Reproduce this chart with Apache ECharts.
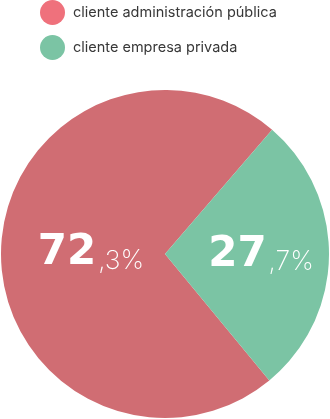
<!DOCTYPE html>
<html>
<head>
<meta charset="utf-8">
<script src="https://cdn.jsdelivr.net/npm/echarts@6/dist/echarts.min.js"></script>
<style>
html,body{margin:0;padding:0;background:#fff;}
#c{width:330px;height:419px;}
</style>
</head>
<body>
<div id="c"></div>
<script>
const categories = ['cliente administración pública', 'cliente empresa privada'];
const values = [72.3, 27.7];
const sliceColors = ['#d06d73', '#7bc4a4'];
const legendColors = ['#ef717c', '#7bc4a4'];

const chart = echarts.init(document.getElementById('c'), null, {renderer: 'canvas'});

function fmt(p) {
  const v = p.value.toFixed(1).split('.');
  return '{a|' + v[0] + '}{b|,' + v[1] + '%}';
}

chart.setOption({
  animation: false,
  legend: {
    orient: 'vertical',
    left: 40,
    top: 0,
    padding: 0,
    itemWidth: 25,
    itemHeight: 25,
    itemGap: 10,
    icon: 'circle',
    textStyle: {fontFamily: 'Inter', fontSize: 14.5, color: '#383838', padding: [0, 0, 0, 3]},
    data: categories.map((n, i) => ({name: n, itemStyle: {color: legendColors[i]}}))
  },
  series: [{
    type: 'pie',
    center: [165, 254],
    radius: [0, 164],
    startAngle: -50.5,
    clockwise: true,
    silent: true,
    itemStyle: {borderWidth: 0},
    label: {
      show: true,
      position: 'inside',
      formatter: fmt,
      rich: {
        a: {fontFamily: 'DejaVu Sans', fontWeight: 'bold', fontSize: 42, color: '#fff', verticalAlign: 'bottom', lineHeight: 44},
        b: {fontFamily: 'Inter', fontWeight: 200, fontSize: 26.5, color: '#fff', verticalAlign: 'bottom', lineHeight: 44, padding: [0, 0, 0, 2]}
      }
    },
    labelLine: {show: false},
    labelLayout: function (p) {
      return {dx: 11, dy: -1};
    },
    data: categories.map((n, i) => ({name: n, value: values[i], itemStyle: {color: sliceColors[i]}}))
  }]
});
</script>
</body>
</html>
